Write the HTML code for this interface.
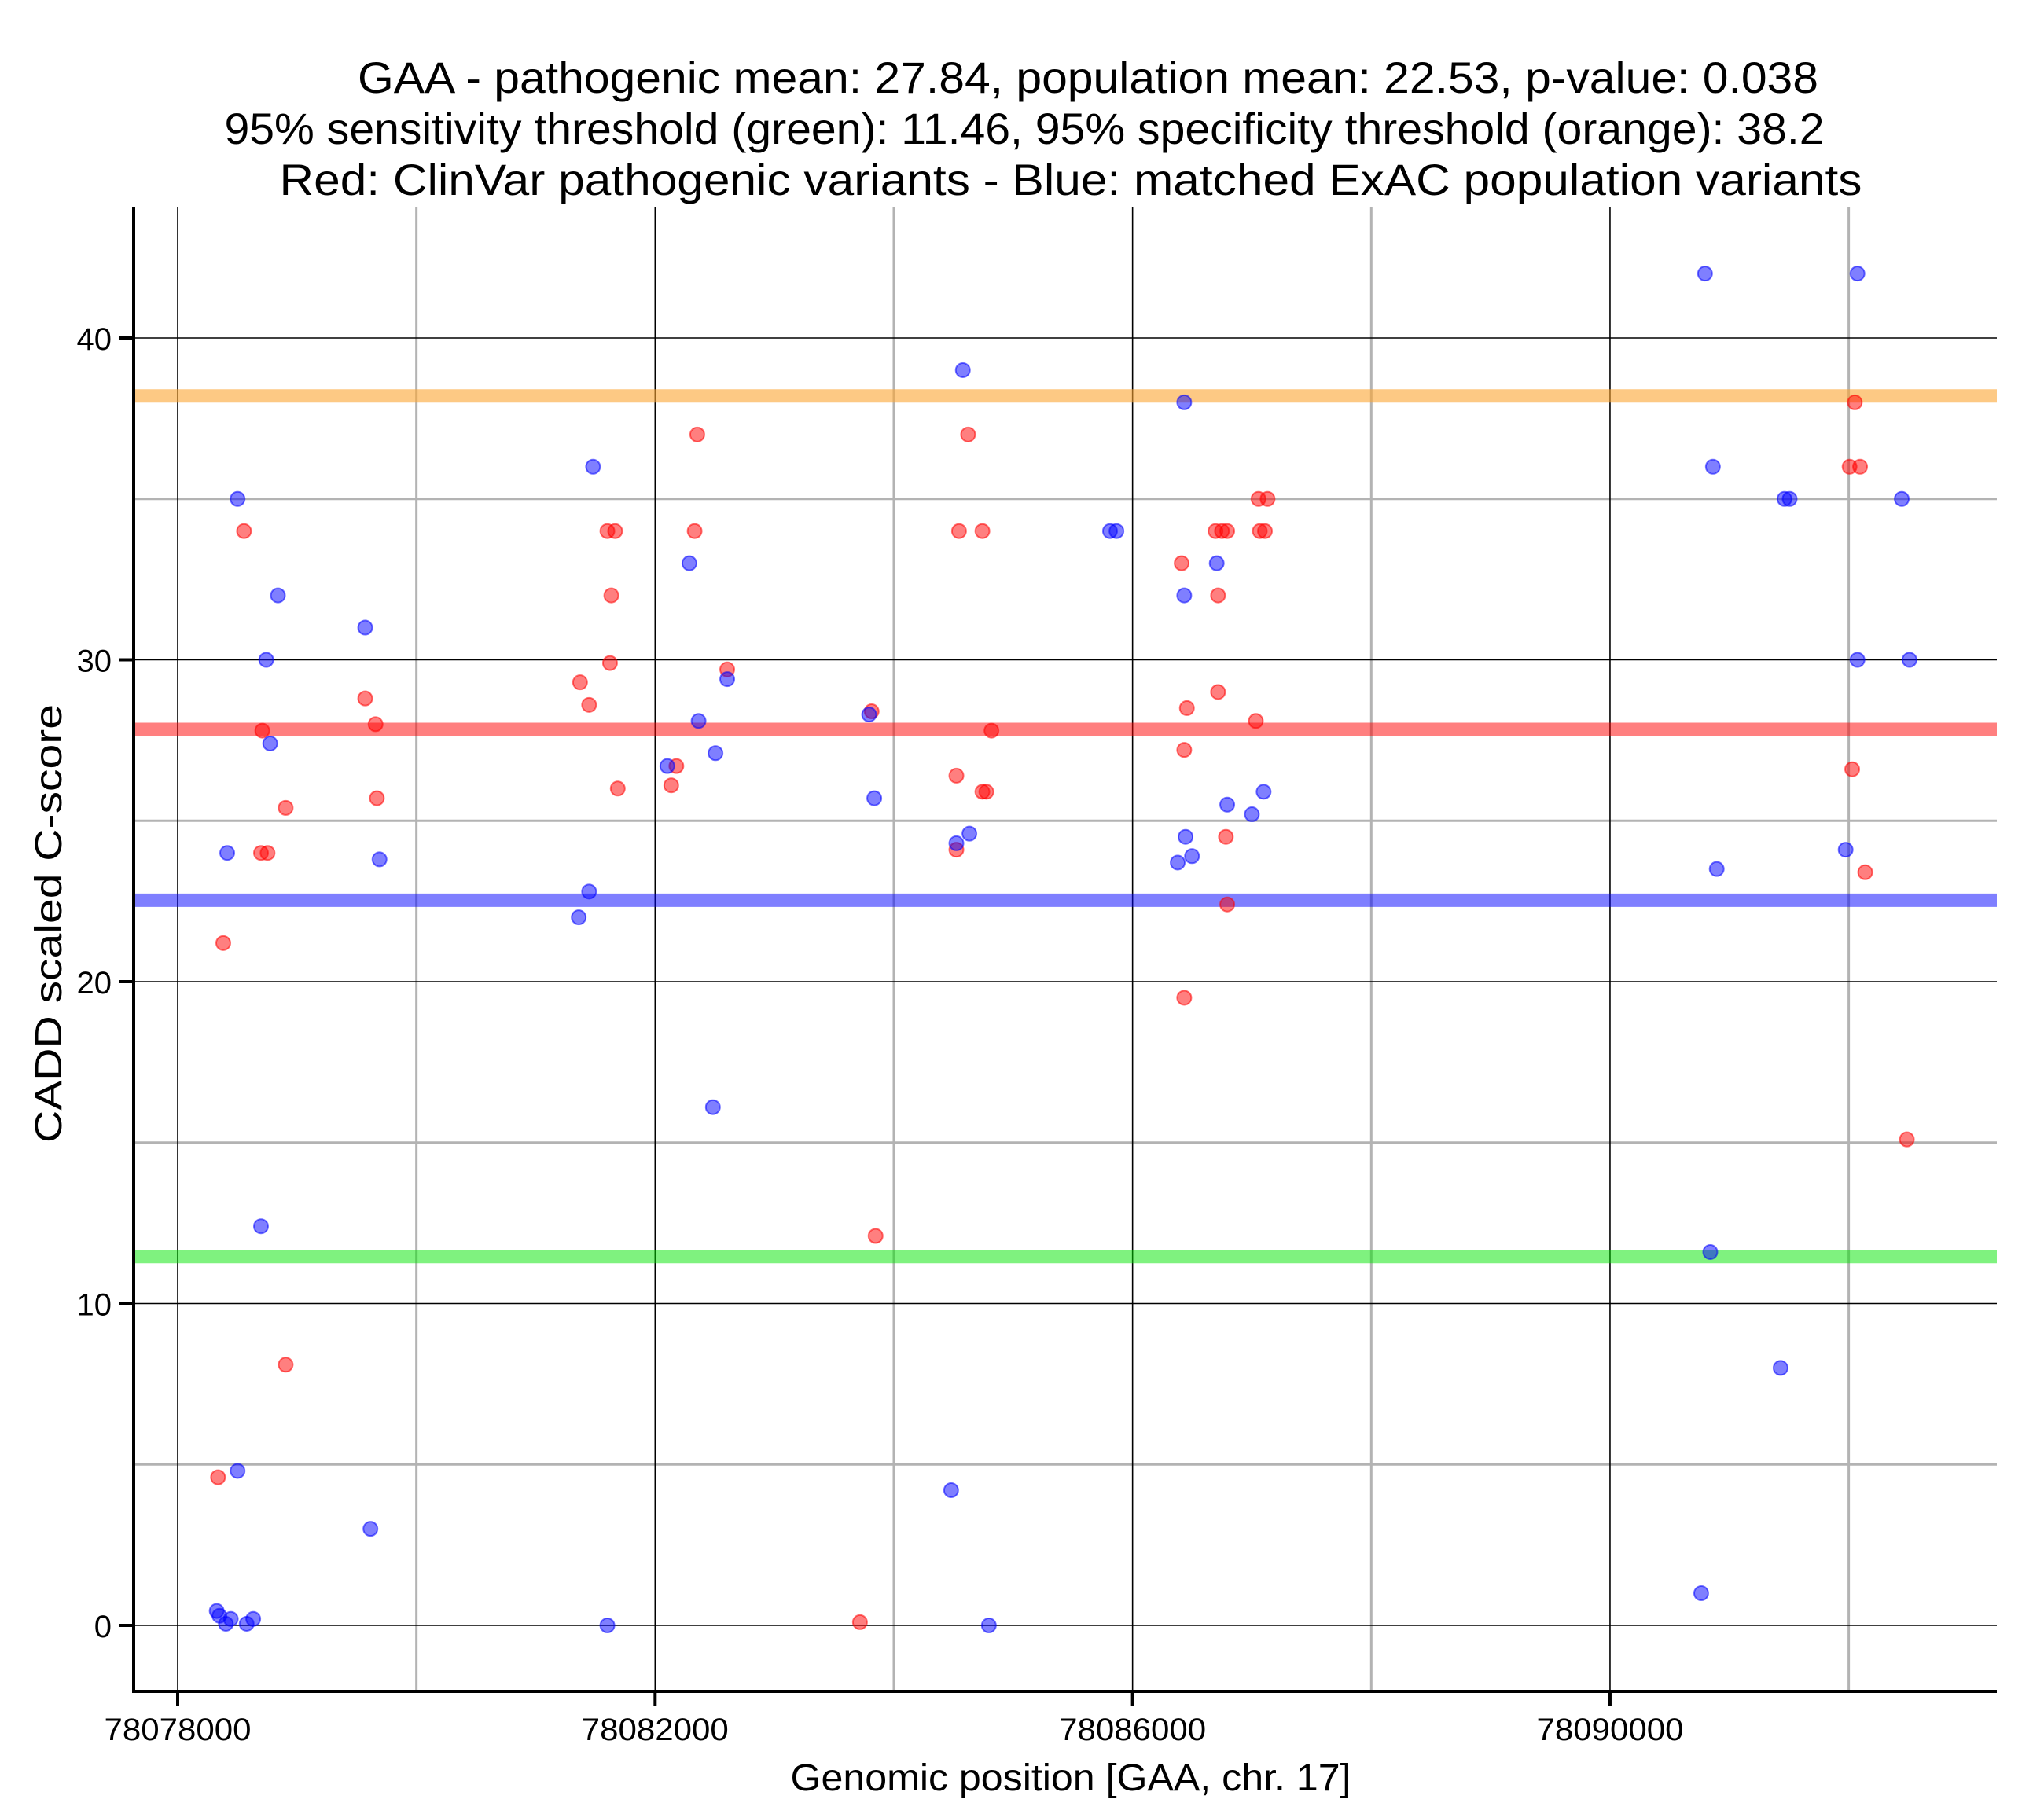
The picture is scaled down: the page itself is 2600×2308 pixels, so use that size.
<!DOCTYPE html>
<html><head><meta charset="utf-8"><style>
html,body{margin:0;padding:0;background:#fff;}
svg{display:block;font-family:"Liberation Sans",Arial,sans-serif;}
</style></head><body>
<svg id="chart" width="2600" height="2308" viewBox="0 0 2600 2308" xmlns="http://www.w3.org/2000/svg">
<rect width="2600" height="2308" fill="#fff"/>
<g font-size="56" text-anchor="middle" fill="#000">
<text x="1384" y="118" textLength="1858" lengthAdjust="spacingAndGlyphs">GAA - pathogenic mean: 27.84, population mean: 22.53, p-value: 0.038</text>
<text x="1303" y="183" textLength="2035" lengthAdjust="spacingAndGlyphs">95% sensitivity threshold (green): 11.46, 95% specificity threshold (orange): 38.2</text>
<text x="1362" y="248" textLength="2013" lengthAdjust="spacingAndGlyphs">Red: ClinVar pathogenic variants - Blue: matched ExAC population variants</text>
</g>
<g id="grid"></g>
<g id="hlines"></g>
<g id="points"></g>
<g id="axes"></g>
<text x="1362" y="2278" font-size="48" text-anchor="middle" textLength="713" lengthAdjust="spacingAndGlyphs">Genomic position [GAA, chr. 17]</text>
<text transform="translate(78,1175) rotate(-90)" font-size="48" text-anchor="middle" textLength="558" lengthAdjust="spacingAndGlyphs">CADD scaled C-score</text>
</svg>
<script>
const xTicks = [78078000, 78082000, 78086000, 78090000];
const xMinor = [78080000, 78084000, 78088000, 78092000];
const yTicks = [0, 10, 20, 30, 40];
const yMinor = [5, 15, 25, 35];
const thresholdValues = [38.2, 27.84, 22.53, 11.46];
const thresholdNames = ['specificity-threshold-line','pathogenic-mean-line','population-mean-line','sensitivity-threshold-line'];
const redX = [78078338,78078382,78078556,78078709,78078698,78078753,78078905,78078905,78079571,78079658,78079669,78081371,78081447,78081600,78081665,78081633,78081622,78081687,78082135,78082178,78082353,78082331,78082604,78083716,78083814,78083847,78084524,78084524,78084546,78084622,78084742,78084742,78084775,78084818,78086411,78086433,78086433,78086455,78086695,78086716,78086716,78086749,78086793,78086782,78086793,78087033,78087055,78087066,78087109,78087131,78092007,78092095,78092051,78092029,78092138,78092487];
const redY = [4.6,21.2,34,27.8,24,24,25.4,8.1,28.8,28,25.7,29.3,28.6,34,34,32,29.9,26,26.1,26.7,37,34,29.7,0.1,28.4,12.1,26.4,24.1,34,37,34,25.9,25.9,27.8,33,19.5,27.2,28.5,34,32,29,34,34,24.5,22.4,28.1,35,34,34,35,36,36,38,26.6,23.4,15.1];
const blueX = [78078327,78078350,78078404,78078445,78078578,78078633,78078415,78078502,78078502,78078698,78078742,78078775,78078840,78079571,78079615,78079691,78081360,78081447,78081480,78081600,78082102,78082287,78082364,78082484,78082506,78082604,78083793,78083836,78084480,78084524,78084578,78084633,78084796,78085811,78085865,78086378,78086433,78086433,78086444,78086498,78086705,78086793,78087000,78087098,78090796,78090862,78090894,78090840,78090764,78091429,78091462,78091505,78091974,78092073,78092073,78092444,78092509];
const blueY = [0.45,0.3,0.05,0.2,0.05,0.2,24,35,4.8,12.4,30,27.4,32,31,3,23.8,22,22.8,36,0,26.7,33,28.1,16.1,27.1,29.4,28.3,25.7,4.2,24.3,39,24.6,0,34,34,23.7,38,32,24.5,23.9,33,25.5,25.2,25.9,42,36,23.5,11.6,1,8,35,35,24.1,42,30,35,30];

const L=170,R=2540,T=263,B=2152;
function sx(v){return 226+(v-78078000)*0.15183;}
function sy(v){return 2068-v*40.95;}
const NS='http://www.w3.org/2000/svg';
function mk(tag,parent,attrs){const e=document.createElementNS(NS,tag);for(const k in attrs)e.setAttribute(k,attrs[k]);parent.appendChild(e);return e;}
const grid=document.getElementById('grid'),hl=document.getElementById('hlines'),pts=document.getElementById('points'),axes=document.getElementById('axes');
xMinor.forEach(v=>{const e=mk('line',grid,{x1:sx(v),x2:sx(v),y1:T,y2:B,stroke:'#b3b3b3','stroke-width':3});

});
yMinor.forEach(v=>{const e=mk('line',grid,{x1:L,x2:R,y1:sy(v),y2:sy(v),stroke:'#b3b3b3','stroke-width':3});

});
xTicks.forEach(v=>{const e=mk('line',grid,{x1:sx(v),x2:sx(v),y1:T,y2:B,stroke:'#000','stroke-width':1.6});

});
yTicks.forEach(v=>{const e=mk('line',grid,{x1:L,x2:R,y1:sy(v),y2:sy(v),stroke:'#000','stroke-width':1.6});

});
const hcols=['rgba(252,165,50,0.6)','rgba(255,0,0,0.5)','rgba(0,0,255,0.5)','rgba(0,230,0,0.5)'];
thresholdValues.forEach((v,i)=>{const e=mk('line',hl,{x1:L,x2:R,y1:sy(v),y2:sy(v),stroke:hcols[i],'stroke-width':17});

});
redX.forEach((x,i)=>{const e=mk('circle',pts,{cx:sx(x),cy:sy(redY[i]),r:9,fill:'rgba(255,0,0,0.5)',stroke:'rgba(255,0,0,0.55)','stroke-width':2});

});
blueX.forEach((x,i)=>{const e=mk('circle',pts,{cx:sx(x),cy:sy(blueY[i]),r:9,fill:'rgba(0,0,255,0.5)',stroke:'rgba(0,0,255,0.55)','stroke-width':2});

});
let e=mk('line',axes,{x1:L,x2:L,y1:T,y2:B+2,stroke:'#000','stroke-width':4});


e=mk('line',axes,{x1:L-2,x2:R,y1:B,y2:B,stroke:'#000','stroke-width':4});


xTicks.forEach(v=>{const t=mk('line',axes,{x1:sx(v),x2:sx(v),y1:B,y2:B+19,stroke:'#000','stroke-width':4});


const l=mk('text',axes,{x:sx(v),y:B+62,'font-size':40,'text-anchor':'middle',textLength:187,lengthAdjust:'spacingAndGlyphs'});l.textContent=String(v);

});
yTicks.forEach(v=>{const t=mk('line',axes,{x1:L-18,x2:L,y1:sy(v),y2:sy(v),stroke:'#000','stroke-width':4});


const l=mk('text',axes,{x:L-28,y:sy(v)+15,'font-size':40,'text-anchor':'end'});l.textContent=String(v);

});
</script>
</body></html>
